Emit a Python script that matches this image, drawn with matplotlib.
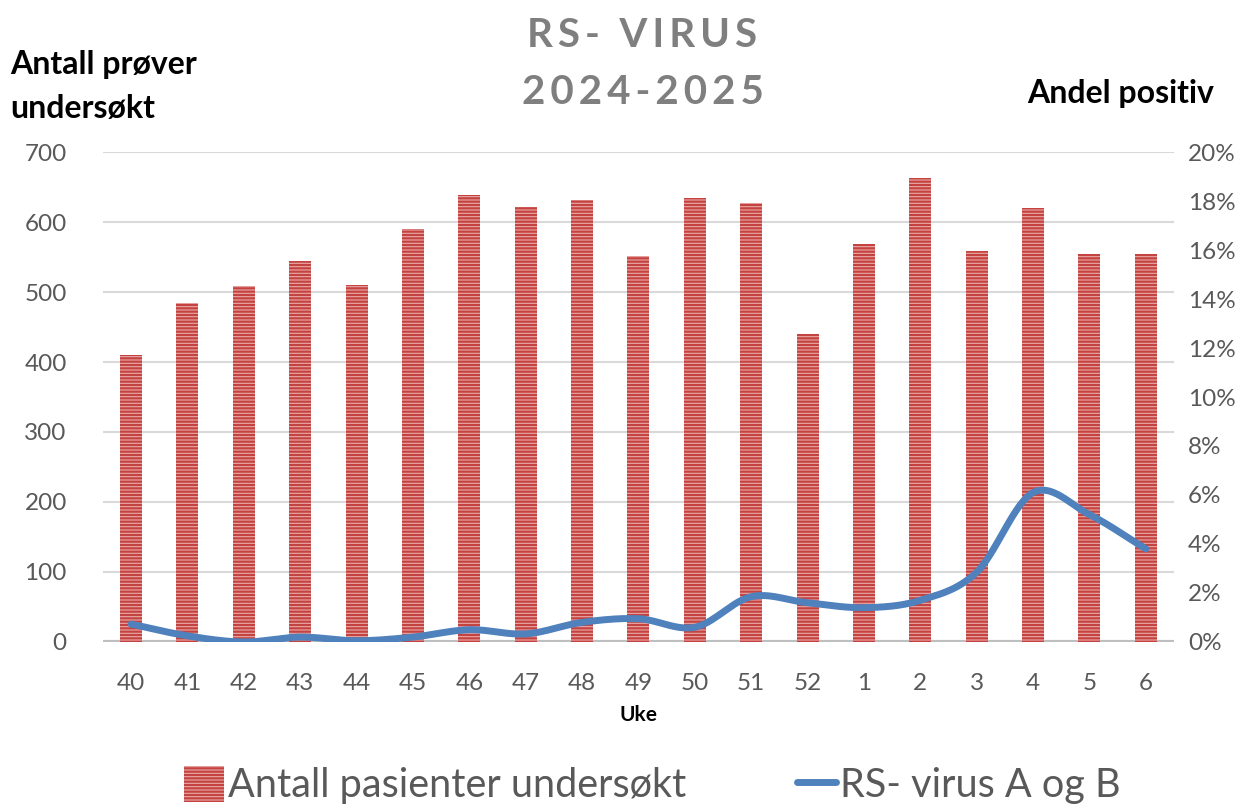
import matplotlib
matplotlib.use("Agg")
import matplotlib.pyplot as plt
import numpy as np
from matplotlib.patches import Patch
from matplotlib.lines import Line2D

weeks = ["40", "41", "42", "43", "44", "45", "46", "47", "48", "49", "50", "51", "52",
         "1", "2", "3", "4", "5", "6"]
antall = [410, 484, 509, 544, 510, 590, 639, 621, 631, 551, 634, 627, 440,
          569, 663, 559, 620, 554, 554]
andel_pct = [0.73, 0.25, 0.0, 0.2, 0.05, 0.2, 0.5, 0.33, 0.8, 0.95, 0.6, 1.85, 1.6,
             1.4, 1.7, 2.85, 6.1, 5.2, 3.8]
left_ticks = [0, 100, 200, 300, 400, 500, 600, 700]
right_ticks = [0, 2, 4, 6, 8, 10, 12, 14, 16, 18, 20]

plt.rcParams['font.family'] = ['Lato', 'DejaVu Sans']
plt.rcParams['hatch.linewidth'] = 1.6

fig = plt.figure(figsize=(12.55, 8.07), dpi=100)
ax = fig.add_axes([0.082, 0.2045, 0.8535, 0.6071])
ax2 = ax.twinx()

x = np.arange(len(weeks))
ax.set_zorder(1)
ax2.set_zorder(2)
ax.bar(x, antall, width=0.39, color='#e9aaa8', edgecolor='#c4423f', linewidth=0,
       hatch='-----', zorder=2)

# smooth curve (Catmull-Rom through data points, like Excel "smoothed line")
def catmull(xs, ys, n=30):
    xs = np.asarray(xs, float); ys = np.asarray(ys, float)
    px = np.concatenate([[2*xs[0]-xs[1]], xs, [2*xs[-1]-xs[-2]]])
    py = np.concatenate([[2*ys[0]-ys[1]], ys, [2*ys[-1]-ys[-2]]])
    ox, oy = [], []
    for i in range(1, len(px)-2):
        t = np.linspace(0, 1, n, endpoint=False)
        for arr, out in ((px, ox), (py, oy)):
            p0, p1, p2, p3 = arr[i-1], arr[i], arr[i+1], arr[i+2]
            out.extend(0.5*((2*p1) + (-p0+p2)*t + (2*p0-5*p1+4*p2-p3)*t**2 + (-p0+3*p1-3*p2+p3)*t**3))
    ox.append(xs[-1]); oy.append(ys[-1])
    return np.array(ox), np.array(oy)

sx, sy = catmull(x, np.array(andel_pct)/100)
ax2.plot(sx, sy, color='#4f81bd', lw=5, solid_capstyle='round', zorder=3)

ax.set_xlim(-0.5, len(weeks)-0.5)
ax.set_ylim(0, 700)
ax2.set_ylim(0, 0.20)
ax.set_yticks(left_ticks)
ax2.set_yticks([v/100 for v in right_ticks])
ax2.set_yticklabels([f"{v}%" for v in right_ticks])
ax.set_xticks(x)
ax.set_xticklabels(weeks)

for a in (ax, ax2):
    for s in a.spines.values():
        s.set_visible(False)
    a.tick_params(length=0, labelsize=17.5, labelcolor='#595959')
ax.tick_params(axis='y', pad=26)
ax.tick_params(axis='x', pad=22)
ax2.tick_params(axis='y', pad=10)
ax.grid(axis='y', color='#d9d9d9', lw=1.5, zorder=0)
ax.set_axisbelow(True)
ax.axhline(0, color='#bfbfbf', lw=3, zorder=1)

ax.set_xlabel("Uke", fontsize=15, fontweight='bold', labelpad=8)

ts = "\u2009"
fig.text(0.512, 0.956, ts.join("RS-") + "  " + ts.join("VIRUS"), ha='center', va='center',
         fontsize=29, fontweight='bold', color='#7f7f7f')
fig.text(0.512, 0.885, ts.join("2024-2025"), ha='center', va='center', fontsize=29,
         fontweight='bold', color='#7f7f7f')
fig.text(0.008, 0.893, "Antall prøver\nundersøkt", ha='left', va='center', fontsize=23,
         fontweight='bold', color='black', linespacing=1.6)
fig.text(0.967, 0.884, "Andel positiv", ha='right', va='center', fontsize=23,
         fontweight='bold', color='black')

handles = [Patch(facecolor='#e9aaa8', edgecolor='#c4423f', linewidth=0, hatch='-----'),
           Line2D([0], [0], color='#4f81bd', lw=5, solid_capstyle='round')]
leg = fig.legend(handles, ["Antall pasienter undersøkt", "RS- virus A og B"],
                 loc='center', bbox_to_anchor=(0.52, 0.027), ncol=2, frameon=False,
                 fontsize=28.5, handlelength=1.0, handletextpad=0.1, columnspacing=2.8,
                 handleheight=1.0)
for t in leg.get_texts():
    t.set_color('#595959')

fig.savefig("out.png", dpi=100)
